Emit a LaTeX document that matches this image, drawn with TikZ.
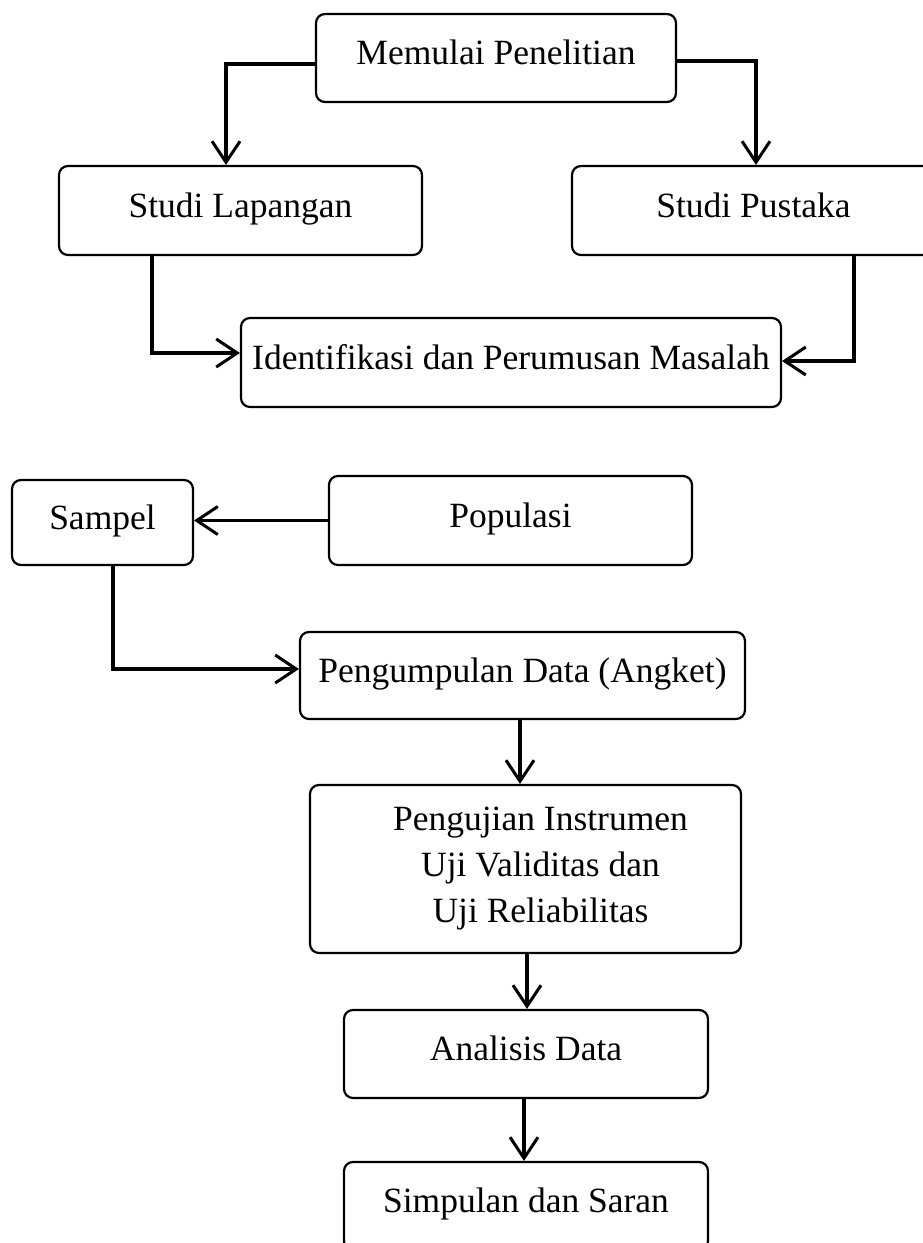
\documentclass[tikz,border=0pt]{standalone}
\usepackage{fontspec}
\setmainfont{Liberation Serif}
\usetikzlibrary{arrows.meta,calc}
\begin{document}
\begin{tikzpicture}[x=1pt,y=-1pt,
  box/.style={draw,line width=2.2pt,rounded corners=9pt,align=center,inner sep=0pt,
    font=\fontsize{35.5}{46}\selectfont},
  oneline/.style={text height=24pt,text depth=11pt},
  conn/.style={line width=3.4pt,-{Straight Barb[length=21pt,width=28pt,line width=3pt]}}]
\useasboundingbox (0,0) rectangle (923,1243);
\node[box,oneline,minimum width=360pt,minimum height=88pt] (M) at (496,58) {Memulai Penelitian};
\node[box,oneline,minimum width=363pt,minimum height=89pt] (SL) at (240.5,210.5) {Studi Lapangan};
\node[box,oneline,minimum width=363pt,minimum height=89pt] (SP) at (753.5,210.5) {Studi Pustaka};
\node[box,oneline,minimum width=540pt,minimum height=89pt] (ID) at (511,362.5) {Identifikasi dan Perumusan Masalah};
\node[box,oneline,minimum width=181pt,minimum height=85pt] (SA) at (102.5,522.5) {Sampel};
\node[box,oneline,minimum width=363pt,minimum height=89pt] (PO) at (510.5,520.5) {Populasi};
\node[box,oneline,minimum width=445pt,minimum height=87pt] (PD) at (522.5,675.5) {Pengumpulan Data (Angket)};
\node[box,minimum width=431pt,minimum height=168pt] (PI) at (525.5,869) {\hspace*{30pt}Pengujian Instrumen\\\hspace*{30pt}Uji Validitas dan\\\hspace*{30pt}Uji Reliabilitas};
\node[box,oneline,minimum width=364pt,minimum height=88pt] (AD) at (526,1054) {Analisis Data};
\node[box,oneline,minimum width=364pt,minimum height=88pt] (SS) at (526,1206) {Simpulan dan Saran};
\draw[conn] ([yshift=-6pt]M.west) -| ([xshift=-14.5pt]SL.north);
\draw[conn] ([yshift=-3pt]M.east) -| ([xshift=2.5pt]SP.north);
\draw[conn] ([xshift=-88.5pt]SL.south) |- ([yshift=9.5pt]ID.west);
\draw[conn] ([xshift=100.5pt]SP.south) |- ([yshift=1.5pt]ID.east);
\draw[conn] (PO.west) -- (SA.east |- PO.west);
\draw[conn] ([xshift=10.5pt]SA.south) |- ([yshift=6.5pt]PD.west);
\draw[conn] ([xshift=-2.5pt]PD.south) -- ([xshift=-5.5pt]PI.north);
\draw[conn] ([xshift=1.5pt]PI.south) -- ([xshift=1pt]AD.north);
\draw[conn] ([xshift=-2pt]AD.south) -- ([xshift=-2pt]SS.north);
\end{tikzpicture}
\end{document}
